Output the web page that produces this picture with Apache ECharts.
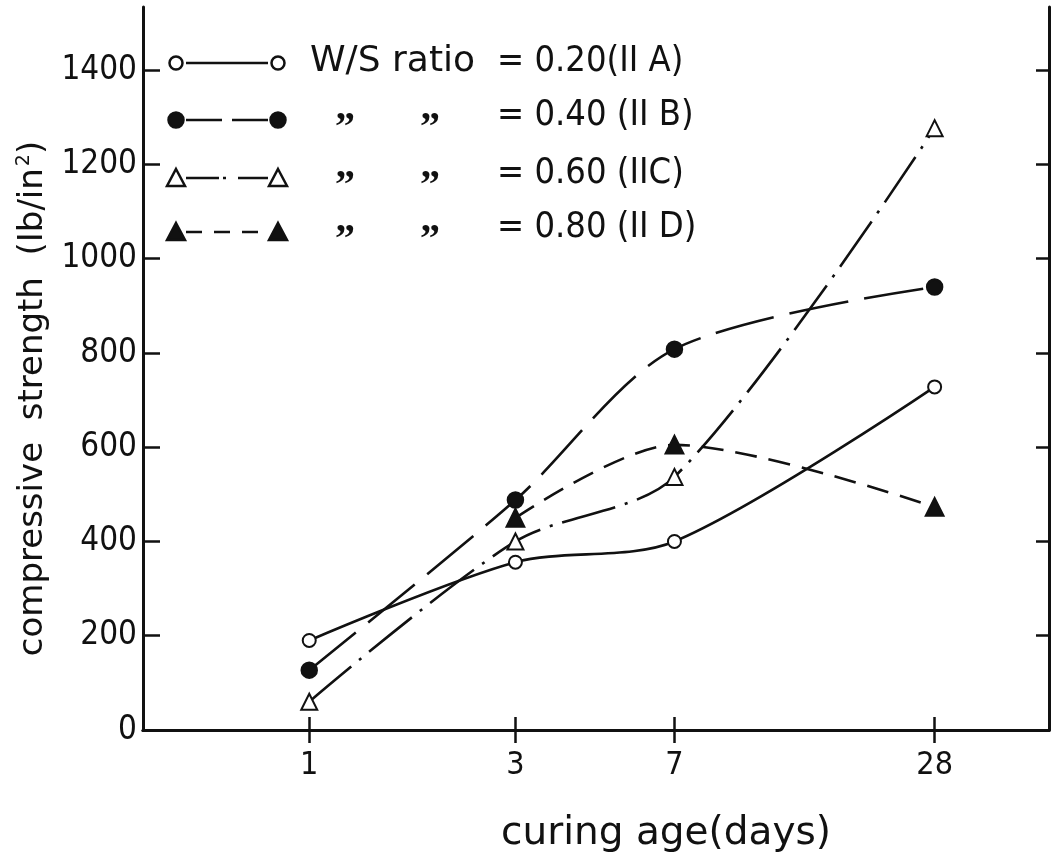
<!DOCTYPE html>
<html>
<head>
<meta charset="utf-8">
<title>compressive strength vs curing age</title>
<script src="https://cdn.jsdelivr.net/npm/echarts@6.0.0/dist/echarts.min.js"></script>
<style>
    html, body { margin: 0; padding: 0; background: #fff; }
    #chart { width: 1055px; height: 862px; }
</style>
</head>
<body>
<div id="chart"></div>
<script>
// 数据：养护龄期（天）与抗压强度（lb/in²）
const days = [1, 3, 7, 28];
const ratio020 = [190, 356, 400, 728]; // II A
const ratio040 = [127, 488, 808, 940]; // II B
const ratio060 = [60, 400, 537, 1277]; // II C
const ratio080 = [null, 450, 605, 473]; // II D，1天无数据
const yTicks = [0, 200, 400, 600, 800, 1000, 1200, 1400];
const ratios = ["0.20", "0.40", "0.60", "0.80"];
const mixes = ["(II A)", " (II B)", " (IIC)", " (II D)"];

const INK = "#111";
const TEXT_FONT = '"DejaVu Sans", sans-serif';
const COND_FONT = '"DejaVu Sans Condensed", "DejaVu Sans", sans-serif';

// 把数组转成 [x, y] 点对，跳过空值
function toPoints(values) {
    const pts = [];
    values.forEach((v, i) => {
        if (v !== null) {
            pts.push([days[i], v]);
        }
    });
    return pts;
}

// 四条曲线的样式
const seriesStyles = [
    { symbol: "emptyCircle", size: 13, dash: "solid" },
    { symbol: "circle", size: 15, dash: [60, 16] },
    { symbol: "emptyTriangle", size: 16, dash: [55, 10, 3, 10] },
    { symbol: "triangle", size: 17, dash: [22, 12] },
];
const seriesValues = [ratio020, ratio040, ratio060, ratio080];

const series = seriesValues.map((vals, i) => ({
    name: ratios[i],
    type: "line",
    data: toPoints(vals),
    smooth: 0.3,
    symbol: seriesStyles[i].symbol,
    symbolSize: seriesStyles[i].size,
    lineStyle: { color: INK, width: 2.6, type: seriesStyles[i].dash },
    itemStyle: { color: INK, borderColor: INK, borderWidth: 2.5 },
    animation: false,
}));

// 图例（画在图内左上角）
const legendY = [63, 120, 178, 232];
const legendDash = [null, [36, 10], [33, 4, 3, 12], [16, 12]];

function legendMarker(kind, x, y) {
    if (kind === "emptyCircle" || kind === "circle") {
        const empty = kind === "emptyCircle";
        return {
            type: "circle",
            shape: { cx: x, cy: y, r: empty ? 6.5 : 7.5 },
            style: { fill: empty ? "#fff" : INK, stroke: INK, lineWidth: 2.5 },
            z: 10,
        };
    }
    const empty = kind === "emptyTriangle";
    return {
        type: "polygon",
        shape: { points: [[x, y - 9], [x + 9, y + 8], [x - 9, y + 8]] },
        style: { fill: empty ? "#fff" : INK, stroke: INK, lineWidth: 2.5, lineJoin: "miter" },
        z: 10,
    };
}

const graphic = [];
legendY.forEach((y, i) => {
    const kind = seriesStyles[i].symbol;
    graphic.push({
        type: "line",
        shape: { x1: 186, y1: y, x2: 268, y2: y },
        style: { stroke: INK, lineWidth: 2.6, lineDash: legendDash[i] },
        z: 5,
    });
    graphic.push(legendMarker(kind, 176, y));
    graphic.push(legendMarker(kind, 278, y));
    if (i === 0) {
        graphic.push({
            type: "text",
            left: 310,
            top: y - 19,
            style: { text: "W/S ratio", font: "36px " + TEXT_FONT, fill: INK },
        });
    } else {
        // 同上符号
        [343, 428].forEach(x => {
            graphic.push({
                type: "text",
                left: x - 8,
                top: y - 11,
                style: { text: "\u201D", font: "bold 40px 'Liberation Serif', serif", fill: INK },
            });
        });
    }
    graphic.push({
        type: "text",
        left: 497,
        top: y - (i === 0 ? 19 : 22),
        style: { text: "= " + ratios[i] + mixes[i], font: "36px " + COND_FONT, fill: INK },
    });
});

const chart = echarts.init(document.getElementById("chart"), null, { renderer: "canvas" });

const xCommon = {
    type: "log",
    logBase: 10,
    min: 0.4124,
    max: 51.5,
    splitLine: { show: false },
    axisLine: { show: true, lineStyle: { color: INK, width: 3 } },
    axisTick: {
        show: true,
        inside: true,
        length: 13,
        customValues: days,
        lineStyle: { color: INK, width: 2.5 },
    },
};

const yCommon = {
    type: "value",
    min: 0,
    max: 1534,
    splitLine: { show: false },
    axisLine: { show: true, lineStyle: { color: INK, width: 3 } },
    axisTick: {
        show: true,
        inside: true,
        length: 13,
        customValues: yTicks,
        lineStyle: { color: INK, width: 2.5 },
    },
};

chart.setOption({
    backgroundColor: "#fff",
    animation: false,
    grid: { left: 143, right: 6, top: 7, bottom: 132, containLabel: false, outerBoundsMode: "none" },
    xAxis: [
        Object.assign({}, xCommon, {
            position: "bottom",
            name: "curing age(days)",
            nameLocation: "middle",
            nameGap: 84,
            nameTextStyle: {
                fontFamily: TEXT_FONT,
                fontSize: 39,
                color: INK,
                padding: [0, 0, 0, 140],
            },
            axisLabel: {
                show: true,
                customValues: days,
                margin: 20,
                fontFamily: COND_FONT,
                fontSize: 32,
                color: INK,
                formatter: v => String(Math.round(v)),
            },
        }),
        Object.assign({}, xCommon, {
            position: "top",
            axisLabel: { show: false },
        }),
    ],
    yAxis: [
        Object.assign({}, yCommon, {
            position: "left",
            name: "compressive  strength  (Ib/in{sup|2})",
            nameLocation: "middle",
            nameRotate: 90,
            nameGap: 62,
            nameTextStyle: {
                fontFamily: TEXT_FONT,
                fontSize: 34,
                color: INK,
                padding: [0, 60, 0, 0],
                rich: {
                    sup: { fontFamily: TEXT_FONT, fontSize: 19, color: INK, verticalAlign: "top", padding: [0, 0, 18, 2] },
                },
            },
            axisTick: Object.assign({}, yCommon.axisTick, { length: 17 }),
            axisLabel: {
                show: true,
                customValues: yTicks,
                margin: 6,
                fontFamily: COND_FONT,
                fontSize: 33,
                color: INK,
                formatter: v => String(v),
            },
        }),
        Object.assign({}, yCommon, {
            position: "right",
            axisLabel: { show: false },
        }),
    ],
    series,
    graphic,
});
</script>
</body>
</html>
